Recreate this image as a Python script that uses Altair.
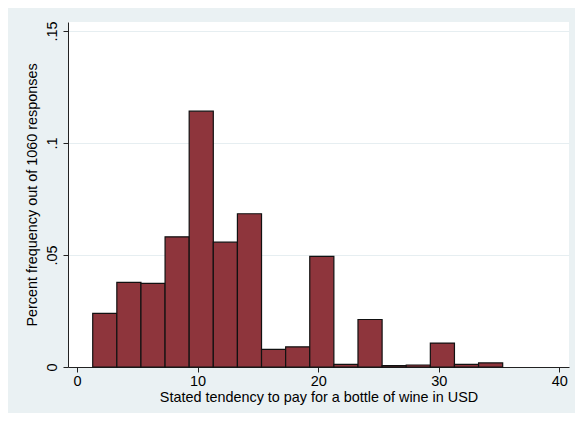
import altair as alt
import pandas as pd

# Histogram bins (USD) and density heights
bin_left = [1.3, 3.3, 5.3, 7.3, 9.3, 11.3, 13.3, 15.3, 17.3, 19.3,
            21.3, 23.3, 25.3, 27.3, 29.3, 31.3, 33.3]
bin_width = 2.0
density = [0.0239, 0.0378, 0.0373, 0.0581, 0.1142, 0.0557, 0.0684, 0.0079,
           0.0090, 0.0494, 0.0012, 0.0212, 0.0006, 0.0009, 0.0107, 0.0012,
           0.0018]

x_ticks = [0, 10, 20, 30, 40]
y_ticks = [0, 0.05, 0.1, 0.15]
y_tick_labels = ["0", ".05", ".1", ".15"]

df = pd.DataFrame({
    "start": bin_left,
    "end": [b + bin_width for b in bin_left],
    "density": density,
})

label_expr = "[{}][indexof([{}], datum.value)]".format(
    ",".join("'" + s + "'" for s in y_tick_labels),
    ",".join(str(v) for v in y_ticks),
)

FONT = "Liberation Sans"

chart = alt.Chart(df).mark_bar(
    color="#8E353C", stroke="#111111", strokeWidth=1.2
).encode(
    x=alt.X("start:Q",
            scale=alt.Scale(domain=[-0.75, 40.8], nice=False, zero=False),
            axis=alt.Axis(values=x_ticks, grid=False, format="d",
                          title="Stated tendency to pay for a bottle of wine in USD",
                          tickSize=5, labelPadding=2, titlePadding=3)),
    x2="end:Q",
    y=alt.Y("density:Q",
            scale=alt.Scale(domain=[0, 0.154], nice=False),
            axis=alt.Axis(values=y_ticks, labelExpr=label_expr, grid=True,
                          title="Percent frequency out of 1060 responses",
                          labelAngle=270, labelAlign="center",
                          labelBaseline="bottom",
                          tickSize=5, labelPadding=4, titlePadding=5)),
    y2=alt.datum(0),
).properties(
    width=501,
    height=345,
    background="#EAF1F3",
    padding={"left": 60, "top": 14, "right": 6, "bottom": 46},
    autosize=alt.AutoSizeParams(type="none"),
).configure_view(
    fill="white", stroke=None
).configure_axis(
    labelFont=FONT, titleFont=FONT, labelFontSize=14.5, titleFontSize=14.4,
    titleFontWeight="normal", labelColor="black", titleColor="black",
    domainColor="#222222", tickColor="#222222", domainWidth=1, tickWidth=1,
    gridColor="#E6EEF1", gridWidth=1,
)

chart.save("out.html", embed_options={"renderer": "svg", "actions": False})
